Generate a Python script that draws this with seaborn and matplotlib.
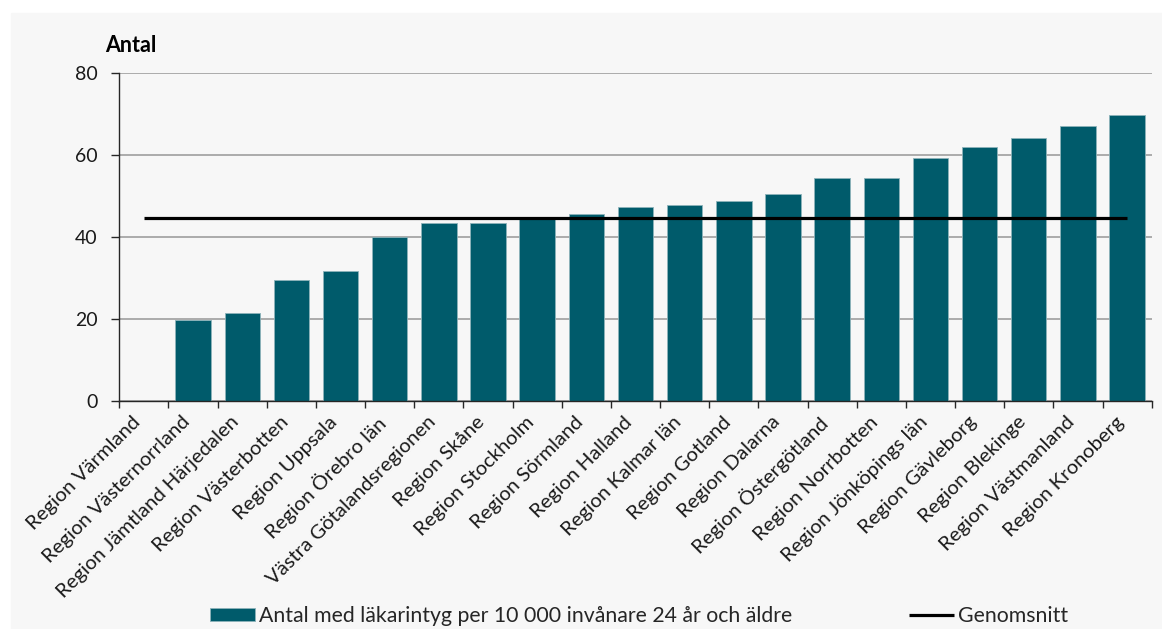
import seaborn as sns
import pandas as pd
import numpy as np
from matplotlib import pyplot as plt
from matplotlib.patches import Rectangle
from matplotlib.ticker import FixedLocator

sns.set_style("white")
plt.rcParams["font.family"] = ["Lato", "DejaVu Sans"]

REGIONER = [
    "Region Värmland", "Region Västernorrland", "Region Jämtland Härjedalen",
    "Region Västerbotten", "Region Uppsala", "Region Örebro län",
    "Västra Götalandsregionen", "Region Skåne", "Region Stockholm",
    "Region Sörmland", "Region Halland", "Region Kalmar län", "Region Gotland",
    "Region Dalarna", "Region Östergötland", "Region Norrbotten",
    "Region Jönköpings län", "Region Gävleborg", "Region Blekinge",
    "Region Västmanland", "Region Kronoberg",
]
ANTAL = [0.0, 19.6, 21.5, 29.4, 31.6, 39.9, 43.4, 43.4, 44.5, 45.6, 47.2,
         47.8, 48.6, 50.5, 54.3, 54.3, 59.2, 62.0, 64.1, 66.9, 69.7]
SNITT = 44.6
Y_TICKS = [0, 20, 40, 60, 80]

BAR_LABEL = "Antal med läkarintyg per 10 000 invånare 24 år och äldre"
LINE_LABEL = "Genomsnitt"

BAR_COLOR = "#005b6b"
PANEL = "#f7f7f7"


def plot_lakarintyg(save_path=None):
    """Stapeldiagram per region med genomsnittslinje."""
    df = pd.DataFrame({"region": REGIONER, "antal": ANTAL})

    fig = plt.figure(figsize=(11.62, 6.29), dpi=100, facecolor="white")
    fig.patches.append(Rectangle((11 / 1162, 0), 1, 1 - 13 / 629,
                                 transform=fig.transFigure, color=PANEL,
                                 zorder=-10))
    ax = fig.add_axes([119.3 / 1162, 1 - 400.7 / 629,
                       (1151.7 - 119.3) / 1162, (400.7 - 72.7) / 629])
    ax.set_facecolor(PANEL)

    sns.barplot(data=df, x="region", y="antal", color=BAR_COLOR,
                saturation=1, width=0.72, errorbar=None, label=BAR_LABEL,
                edgecolor="#8db3ba", linewidth=0.6, ax=ax)
    line, = ax.plot(df.index, [SNITT] * len(df), color="black", lw=2.3,
                    solid_capstyle="butt", label=LINE_LABEL)

    ax.set_xlim(-0.5, len(df) - 0.5)
    ax.set_ylim(0, 80)
    ax.set_yticks(Y_TICKS)
    ax.set_axisbelow(True)
    ax.yaxis.grid(True, color="#ababab", lw=1.4)
    ax.xaxis.grid(False)

    for side in ["top", "right"]:
        ax.spines[side].set_visible(False)
    for side in ["left", "bottom"]:
        ax.spines[side].set_color("#262626")
        ax.spines[side].set_linewidth(1.0)

    ax.set_xlabel("")
    ax.set_ylabel("")
    ax.set_xticks(range(len(df)))
    ax.set_xticklabels(REGIONER, rotation=45, ha="right", fontsize=14.6,
                       color="#1a1a1a")
    ax.xaxis.set_minor_locator(FixedLocator(np.arange(-0.5, len(df), 1.0)))
    ax.tick_params(axis="x", which="major", length=0, pad=9)
    ax.tick_params(axis="x", which="minor", bottom=True, length=5,
                   width=1.0, color="#262626", direction="out")
    ax.tick_params(axis="y", left=True, length=6, width=1.0,
                   color="#262626", pad=9.5, labelsize=14,
                   labelcolor="#1a1a1a")

    fig.text(105 / 1162, 1 - 52.3 / 629, "Antal", fontsize=15.5,
             fontweight="bold", va="baseline", ha="left", color="black")

    ax.legend(handles=[ax.containers[0], line], labels=[BAR_LABEL, LINE_LABEL],
              loc="center", bbox_to_anchor=(0.55, 1 - 616 / 629),
              bbox_transform=fig.transFigure, ncol=2, frameon=False,
              fontsize=15.3, handlelength=2.12, handleheight=0.6,
              handletextpad=0.19, columnspacing=5.5, borderpad=0)

    if save_path:
        fig.savefig(save_path, dpi=100, facecolor=fig.get_facecolor())
    plt.close(fig)


if __name__ == "__main__":
    plot_lakarintyg(save_path="out.png")
